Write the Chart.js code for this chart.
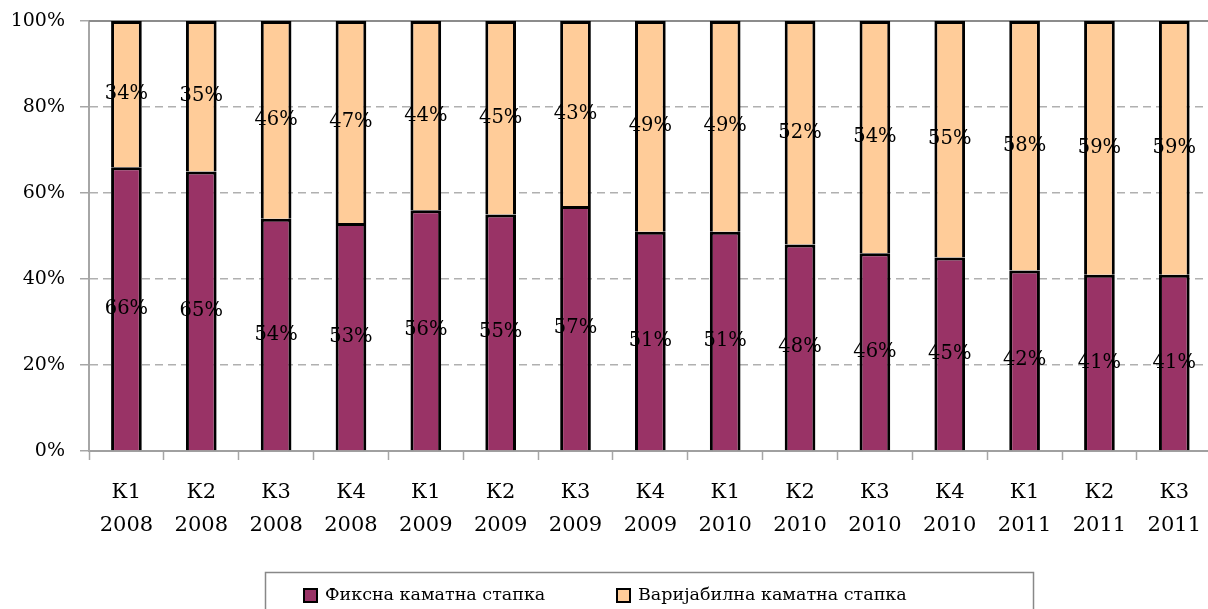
<!DOCTYPE html>
<html>
<head>
<meta charset="utf-8">
<script src="https://cdn.jsdelivr.net/npm/chart.js@4.4.1/dist/chart.umd.min.js"></script>
<style>
  html, body { margin: 0; padding: 0; background: #fff; overflow: hidden; }
  #wrap { width: 1217px; height: 609px; position: relative; }
</style>
</head>
<body>
<div id="wrap"><canvas id="c"></canvas></div>
<script>
// ---- data ----
const categories = [
  ['К1','2008'], ['К2','2008'], ['К3','2008'], ['К4','2008'],
  ['К1','2009'], ['К2','2009'], ['К3','2009'], ['К4','2009'],
  ['К1','2010'], ['К2','2010'], ['К3','2010'], ['К4','2010'],
  ['К1','2011'], ['К2','2011'], ['К3','2011']
];
const fixedRate    = [66, 65, 54, 53, 56, 55, 57, 51, 51, 48, 46, 45, 42, 41, 41];
const variableRate = [34, 35, 46, 47, 44, 45, 43, 49, 49, 52, 54, 55, 58, 59, 59];
const seriesNames  = ['Фиксна каматна стапка', 'Варијабилна каматна стапка'];
const yTickValues  = [0, 20, 40, 60, 80, 100];

const FONT = "'DejaVu Serif', serif";

const valueLabels = {
  id: 'valueLabels',
  afterDatasetsDraw(chart) {
    const ctx = chart.ctx;
    ctx.save();
    ctx.font = "19.5px " + FONT;
    ctx.fillStyle = '#000';
    ctx.textAlign = 'center';
    ctx.textBaseline = 'middle';
    chart.data.datasets.forEach((ds, di) => {
      const meta = chart.getDatasetMeta(di);
      meta.data.forEach((el, i) => {
        const p = el.getCenterPoint();
        ctx.fillText(ds.data[i] + '%', p.x, p.y);
      });
    });
    ctx.restore();
  }
};

const topLine = {
  id: 'topLine',
  beforeDatasetsDraw(chart) {
    const {ctx, chartArea} = chart;
    ctx.save();
    ctx.strokeStyle = '#8c8c8c';
    ctx.lineWidth = 2;
    ctx.beginPath();
    ctx.moveTo(chartArea.left, chartArea.top);
    ctx.lineTo(chartArea.right, chartArea.top);
    ctx.stroke();
    ctx.restore();
  }
};

const boxLegend = {
  id: 'boxLegend',
  afterDraw(chart) {
    const ctx = chart.ctx;
    const markerX = [304, 617];
    const cy = 595.5;
    ctx.save();
    ctx.strokeStyle = '#888';
    ctx.lineWidth = 1.5;
    ctx.strokeRect(265.5, 572.5, 768, 70);
    chart.data.datasets.forEach((ds, i) => {
      const x = markerX[i];
      ctx.fillStyle = ds.backgroundColor;
      ctx.fillRect(x, cy - 6.5, 13, 13);
      ctx.strokeStyle = '#000';
      ctx.lineWidth = 2;
      ctx.strokeRect(x, cy - 6.5, 13, 13);
      ctx.fillStyle = '#000';
      ctx.font = "17.5px " + FONT;
      ctx.textAlign = 'left';
      ctx.textBaseline = 'middle';
      ctx.fillText(ds.label, x + 21, cy);
    });
    ctx.restore();
  }
};

new Chart(document.getElementById('c'), {
  type: 'bar',
  data: {
    labels: categories,
    datasets: [
      {
        label: seriesNames[0],
        data: fixedRate,
        backgroundColor: '#993366',
        borderColor: '#000',
        borderWidth: 3,
        categoryPercentage: 1,
        barPercentage: 0.41
      },
      {
        label: seriesNames[1],
        data: variableRate,
        backgroundColor: '#FFCC99',
        borderColor: '#000',
        borderWidth: 3,
        categoryPercentage: 1,
        barPercentage: 0.41
      }
    ]
  },
  options: {
    responsive: true,
    maintainAspectRatio: false,
    animation: false,
    layout: { padding: { top: 21, left: 0, right: 0, bottom: 0 } },
    plugins: {
      legend: { display: false },
      tooltip: { enabled: false }
    },
    scales: {
      x: {
        stacked: true,
        afterFit(scale) { scale.height = 158; },
        grid: {
          offset: true,
          drawOnChartArea: false,
          drawTicks: true,
          tickLength: 9,
          tickColor: '#a6a6a6',
          tickWidth: 1.5
        },
        border: { display: true, color: '#a0a0a0', width: 2 },
        ticks: {
          padding: 16,
          color: '#000',
          maxRotation: 0,
          autoSkip: false,
          font: { family: FONT, size: 21, lineHeight: 1.571 }
        }
      },
      y: {
        stacked: true,
        min: 0,
        max: 100,
        afterFit(scale) {
          scale.width = 89;
          scale.paddingTop = 0;
          scale.paddingBottom = 0;
        },
        afterBuildTicks(scale) { scale.ticks = yTickValues.map(v => ({ value: v })); },
        grid: {
          color: (c) => (c.tick && c.tick.value === 100) ? 'rgba(0,0,0,0)' : '#b0b0b0',
          lineWidth: 1.5,
          drawTicks: true,
          tickLength: 9,
          tickColor: '#a6a6a6',
          tickWidth: 1.5,
          tickBorderDash: []
        },
        border: { display: true, color: '#a6a6a6', width: 2, dash: [8, 5] },
        ticks: {
          padding: 15,
          color: '#000',
          font: { family: FONT, size: 19 },
          callback: (v) => v + '%'
        }
      }
    }
  },
  plugins: [topLine, valueLabels, boxLegend]
});
</script>
</body>
</html>
